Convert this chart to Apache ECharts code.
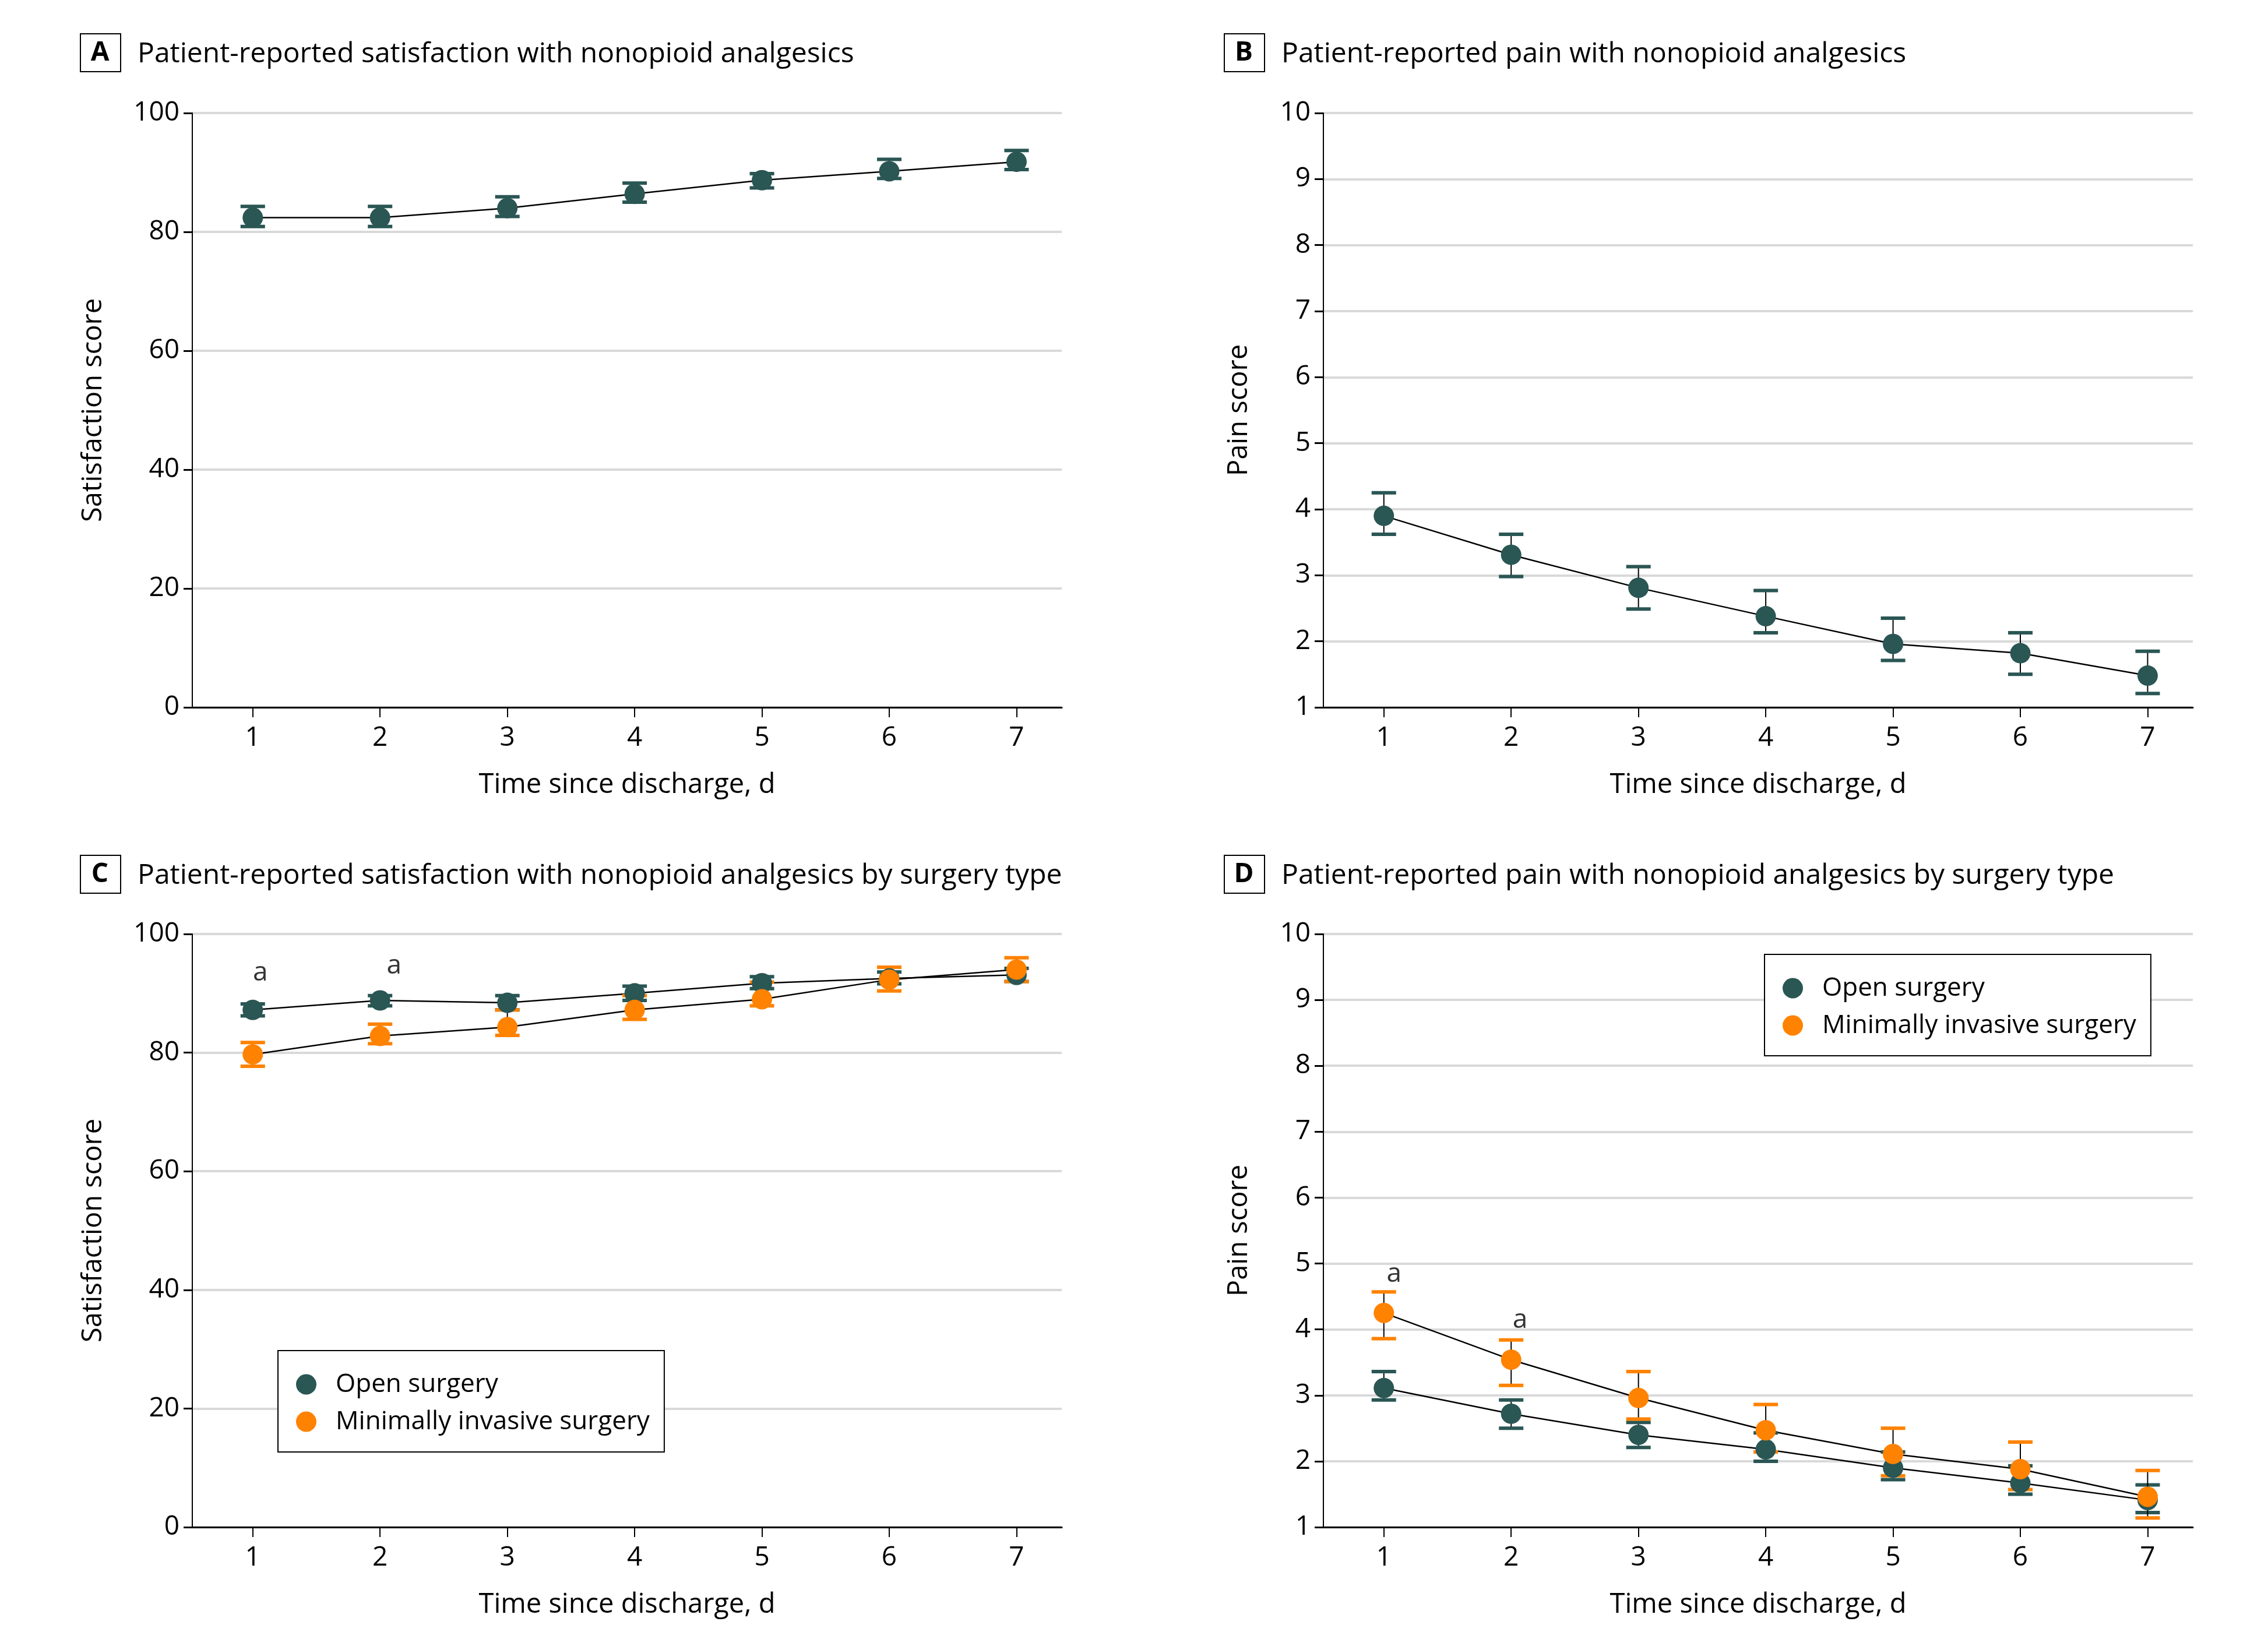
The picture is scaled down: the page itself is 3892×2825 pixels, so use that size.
<!DOCTYPE html>
<html>
<head>
<meta charset="utf-8">
<script src="https://cdn.jsdelivr.net/npm/echarts@6/dist/echarts.min.js"></script>
<style>html,body{margin:0;padding:0;background:#fff}#c{width:3892px;height:2825px}</style>
</head>
<body>
<div id="c"></div>
<script>
// ---- data ----
const days = [1, 2, 3, 4, 5, 6, 7];
const xTicks = [1, 2, 3, 4, 5, 6, 7];

const satMean = [82.4, 82.4, 84.0, 86.4, 88.7, 90.2, 91.8];
const satLow  = [80.9, 80.9, 82.6, 85.0, 87.4, 89.0, 90.5];
const satHigh = [84.3, 84.3, 85.9, 88.2, 89.8, 92.2, 93.7];

const painMean = [3.90, 3.31, 2.81, 2.38, 1.96, 1.82, 1.48];
const painLow  = [3.62, 2.98, 2.49, 2.13, 1.71, 1.50, 1.21];
const painHigh = [4.25, 3.62, 3.13, 2.77, 2.35, 2.13, 1.85];

const satOpenMean = [87.2, 88.8, 88.4, 90.0, 91.7, 92.5, 93.1];
const satOpenLow  = [86.2, 87.9, 87.2, 88.8, 90.8, 91.6, 92.0];
const satOpenHigh = [88.2, 89.6, 89.6, 91.2, 92.8, 93.6, 94.2];
const satMisMean  = [79.7, 82.8, 84.3, 87.2, 89.0, 92.3, 94.0];
const satMisLow   = [77.7, 81.5, 82.9, 85.6, 87.9, 90.4, 92.0];
const satMisHigh  = [81.7, 84.8, 87.2, 89.6, 91.9, 94.4, 96.0];

const painOpenMean = [3.11, 2.72, 2.40, 2.18, 1.90, 1.67, 1.41];
const painOpenLow  = [2.93, 2.50, 2.21, 2.00, 1.72, 1.50, 1.22];
const painOpenHigh = [3.36, 2.93, 2.59, 2.43, 2.14, 1.93, 1.64];
const painMisMean  = [4.25, 3.54, 2.96, 2.47, 2.11, 1.88, 1.46];
const painMisLow   = [3.86, 3.15, 2.64, 2.14, 1.78, 1.57, 1.14];
const painMisHigh  = [4.57, 3.84, 3.36, 2.86, 2.50, 2.29, 1.86];

// significance markers "a" (day, score position)
const annotC = [[1.06, 93.4], [2.11, 94.6]];
const annotD = [[1.08, 4.84], [2.07, 4.14]];

const panelLetters = ['A', 'B', 'C', 'D'];
const panelTitles = [
  'Patient-reported satisfaction with nonopioid analgesics',
  'Patient-reported pain with nonopioid analgesics',
  'Patient-reported satisfaction with nonopioid analgesics by surgery type',
  'Patient-reported pain with nonopioid analgesics by surgery type'
];
const groupNames = ['Open surgery', 'Minimally invasive surgery'];
const xName = 'Time since discharge, d';
const yNames = ['Satisfaction score', 'Pain score', 'Satisfaction score', 'Pain score'];

// ---- styles ----
const DARK = '#2a5654';
const ORANGE = '#ff8200';
const FONT = 'Open Sans';

const pts = (xs, ys) => xs.map((x, i) => [x, ys[i]]);
const ci = (xs, lo, hi) => xs.map((x, i) => [x, lo[i], hi[i]]);

function errRender(color) {
  return function (params, api) {
    const x = api.value(0), lo = api.value(1), hi = api.value(2);
    const p1 = api.coord([x, lo]), p2 = api.coord([x, hi]);
    const w = 42, h = 6;
    return {
      type: 'group',
      children: [
        {type: 'line', shape: {x1: p1[0], y1: p1[1], x2: p2[0], y2: p2[1]}, style: {stroke: '#000', lineWidth: 2}},
        {type: 'rect', shape: {x: p1[0] - w / 2, y: p1[1] - h / 2, width: w, height: h}, style: {fill: color}},
        {type: 'rect', shape: {x: p2[0] - w / 2, y: p2[1] - h / 2, width: w, height: h}, style: {fill: color}}
      ]
    };
  };
}

const grids = [
  {left: 330, top: 194, width: 1492, height: 1020},
  {left: 2271, top: 194, width: 1492, height: 1020},
  {left: 330, top: 1603, width: 1492, height: 1018},
  {left: 2271, top: 1603, width: 1492, height: 1018}
];

const xAxes = grids.map((g, i) => ({
  type: 'value', gridIndex: i, min: 0.525, max: 7.355,
  name: xName, nameLocation: 'middle', nameGap: 110,
  nameTextStyle: {fontSize: 47, color: '#000', fontFamily: FONT},
  axisLine: {show: true, onZero: false, lineStyle: {color: '#000', width: 3}},
  axisTick: {show: true, customValues: xTicks, length: 17, lineStyle: {color: '#000', width: 2}},
  axisLabel: {show: true, customValues: xTicks, margin: 30, fontSize: 46, color: '#000', fontFamily: FONT},
  splitLine: {show: false}
}));

const yAxes = grids.map((g, i) => {
  const sat = (i % 2 === 0);
  return {
    type: 'value', gridIndex: i,
    min: sat ? 0 : 1, max: sat ? 100 : 10, interval: sat ? 20 : 1,
    name: yNames[i], nameLocation: 'middle', nameGap: sat ? 146 : 121,
    nameTextStyle: {fontSize: 47, color: '#000', fontFamily: FONT},
    axisLine: {show: true, onZero: false, lineStyle: {color: '#000', width: 2}},
    axisTick: {show: true, length: 15, lineStyle: {color: '#000', width: 3}},
    axisLabel: {margin: 22, fontSize: 46, color: '#000', fontFamily: FONT},
    splitLine: {show: true, lineStyle: {color: '#d9d9d9', width: 4}}
  };
});

function lineSeries(idx, data) {
  return {type: 'line', xAxisIndex: idx, yAxisIndex: idx, data: data, symbol: 'none',
    lineStyle: {color: '#000', width: 2.5}, z: 2, silent: true, animation: false};
}
function errSeries(idx, data, color) {
  return {type: 'custom', xAxisIndex: idx, yAxisIndex: idx, data: data,
    encode: {x: 0, y: [1, 2]}, renderItem: errRender(color), z: 3, silent: true, animation: false};
}
function markSeries(idx, data, color, name) {
  return {type: 'scatter', name: name, xAxisIndex: idx, yAxisIndex: idx, data: data,
    symbol: 'circle', symbolSize: 35, itemStyle: {color: color, opacity: 1}, z: 3, animation: false};
}
function annotSeries(idx, data) {
  return {type: 'scatter', xAxisIndex: idx, yAxisIndex: idx, data: data, symbolSize: 1,
    itemStyle: {color: 'rgba(0,0,0,0)'}, z: 4, animation: false, silent: true,
    label: {show: true, position: 'inside', formatter: 'a', fontSize: 46, color: '#000', fontFamily: FONT}};
}

const series = [
  // A
  lineSeries(0, pts(days, satMean)),
  errSeries(0, ci(days, satLow, satHigh), DARK),
  markSeries(0, pts(days, satMean), DARK, 'Satisfaction'),
  // B
  lineSeries(1, pts(days, painMean)),
  errSeries(1, ci(days, painLow, painHigh), DARK),
  markSeries(1, pts(days, painMean), DARK, 'Pain'),
  // C
  lineSeries(2, pts(days, satOpenMean)),
  lineSeries(2, pts(days, satMisMean)),
  errSeries(2, ci(days, satOpenLow, satOpenHigh), DARK),
  markSeries(2, pts(days, satOpenMean), DARK, groupNames[0]),
  errSeries(2, ci(days, satMisLow, satMisHigh), ORANGE),
  markSeries(2, pts(days, satMisMean), ORANGE, groupNames[1]),
  annotSeries(2, annotC),
  // D
  lineSeries(3, pts(days, painOpenMean)),
  lineSeries(3, pts(days, painMisMean)),
  errSeries(3, ci(days, painOpenLow, painOpenHigh), DARK),
  markSeries(3, pts(days, painOpenMean), DARK, groupNames[0]),
  errSeries(3, ci(days, painMisLow, painMisHigh), ORANGE),
  markSeries(3, pts(days, painMisMean), ORANGE, groupNames[1]),
  annotSeries(3, annotD)
];

function legendAt(left, top) {
  return {
    show: true, orient: 'vertical', left: left, top: top,
    data: groupNames.map(n => ({name: n, icon: 'circle'})),
    itemWidth: 35, itemHeight: 35, itemGap: 20,
    padding: [36, 25, 30, 31],
    borderColor: '#000', borderWidth: 2, backgroundColor: '#fff',
    selectedMode: false,
    textStyle: {fontSize: 44, color: '#000', fontFamily: FONT, padding: [0, 0, 0, 28]}
  };
}

// panel title graphics
const titlePos = [[137, 57], [2100, 57], [137, 1467], [2100, 1467]];
const graphics = [];
titlePos.forEach((p, i) => {
  graphics.push({type: 'rect', left: p[0], top: p[1], shape: {width: 69, height: 65},
    style: {fill: '#fff', stroke: '#000', lineWidth: 2}});
  graphics.push({type: 'text', x: p[0] + 34.5, y: p[1] + 34,
    style: {text: panelLetters[i], font: 'bold 46px "' + FONT + '"', fill: '#000', align: 'center', verticalAlign: 'middle'}});
  graphics.push({type: 'text', x: p[0] + 99, y: p[1] + 36,
    style: {text: panelTitles[i], font: '48px "' + FONT + '"', fill: '#000', align: 'left', verticalAlign: 'middle'}});
});

const chart = echarts.init(document.getElementById('c'), null, {renderer: 'canvas'});
chart.setOption({
  backgroundColor: '#fff',
  animation: false,
  textStyle: {fontFamily: FONT},
  grid: grids,
  xAxis: xAxes,
  yAxis: yAxes,
  legend: [legendAt(477, 2318), legendAt(3028, 1638)],
  graphic: graphics,
  series: series
});
</script>
</body>
</html>
